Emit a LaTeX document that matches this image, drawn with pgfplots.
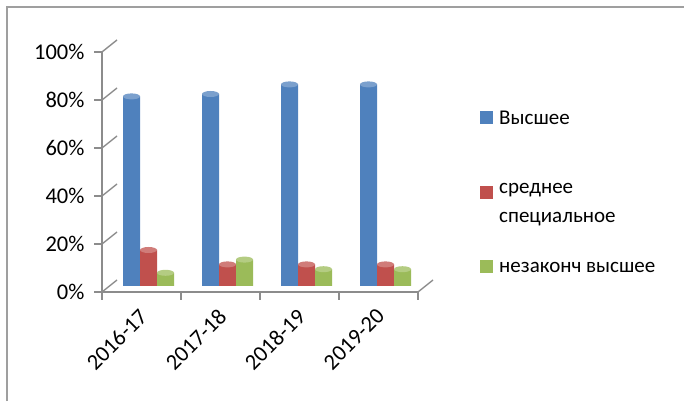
\documentclass[border=0pt]{standalone}
\usepackage{fontspec}
\setmainfont{Carlito}
\usepackage{pgfplots}
\pgfplotsset{compat=1.18}
\usetikzlibrary{shapes.geometric}
\definecolor{cBlue}{HTML}{4F81BD}
\definecolor{cRed}{HTML}{C0504D}
\definecolor{cGreen}{HTML}{9BBB59}
\definecolor{cGrid}{HTML}{8C8C8C}
\pgfplotstableread{
x high mid inc
0 79 15 5.5
1 80 9 11
2 84 9 7
3 84 9 7
}\datatable
\begin{document}
\begin{tikzpicture}[x=1pt,y=1pt]
\useasboundingbox (0,0) rectangle (684,401);
\draw[gray!75, line width=1.6pt] (7,0) -- (7,394) -- (684,394);
% back wall (grid)
\begin{axis}[at={(116pt,121pt)}, anchor=south west, scale only axis,
  width=316pt, height=240pt, xmin=-0.5, xmax=3.5, ymin=0, ymax=100,
  axis lines=none, ytick={0,20,...,100}, xtick=\empty, ymajorgrids,
  grid style={cGrid, line width=1.4pt}]
\addplot[draw=none] coordinates {(0,0)};
\end{axis}
% front axis
\begin{axis}[at={(102pt,109pt)}, anchor=south west, scale only axis,
  width=316pt, height=240pt, xmin=-0.5, xmax=3.5, ymin=0, ymax=100,
  clip=false,
  axis x line=bottom, axis y line=left, axis line style={cGrid, line width=1.4pt, -},
  ytick={0,20,...,100}, yticklabel={\pgfmathprintnumber{\tick}\%},
  /pgf/number format/assume math mode=true,
  tick style={cGrid, line width=1.4pt}, major tick length=8pt, tick align=outside,
  xtick={-0.5,0.5,...,3.5}, xticklabels={},
  extra x ticks={0,1,2,3}, extra x tick labels={2016-17,2017-18,2018-19,2019-20},
  extra x tick style={major tick length=0pt, tick label style={anchor=east, inner sep=0pt, rotate=45, xshift=-13pt, yshift=-16pt}},
  yticklabel style={xshift=-6pt},
  tick label style={font=\fontsize{22.5}{26}\selectfont, text=black}]
\addplot[draw=none] coordinates {(0,0)};
\pgfplotsinvokeforeach{0,20,...,100}{
  \draw[cGrid, line width=1.4pt] (axis cs:-0.5,#1) -- ++(15pt,12pt);
}
\draw[cGrid, line width=1.4pt] (axis cs:3.5,0) -- ++(15pt,12pt);
\end{axis}
% bars (middle depth)
\begin{axis}[at={(109pt,115pt)}, anchor=south west, scale only axis,
  width=316pt, height=240pt, xmin=-0.5, xmax=3.5, ymin=0, ymax=100,
  axis lines=none, xtick=\empty, ytick=\empty, clip=false,
  ybar=0pt, bar width=17pt,
  nodes near coords={},
  every node near coord/.append style={ellipse, minimum width=17pt, minimum height=6pt, inner sep=0pt, anchor=center, draw=none}]
\addplot[draw=none, fill=cBlue,
  every node near coord/.append style={fill=cBlue!75!white}] table[x=x,y=high]{\datatable};
\addplot[draw=none, fill=cRed,
  every node near coord/.append style={fill=cRed!75!white}] table[x=x,y=mid]{\datatable};
\addplot[draw=none, fill=cGreen,
  every node near coord/.append style={fill=cGreen!75!white}] table[x=x,y=inc]{\datatable};
\end{axis}
% legend
\begin{scope}[font=\fontsize{21}{29}\selectfont, text=black]
\fill[cBlue] (480,276.5) rectangle (493,289.5);
\node[anchor=west, inner sep=0pt] at (499,283) {Высшее};
\fill[cRed] (480,201.5) rectangle (493,214.5);
\node[anchor=north west, inner sep=0pt, align=left] at (499,218) {среднее\\специальное};
\fill[cGreen] (480,127.5) rectangle (493,140.5);
\node[anchor=west, inner sep=0pt] at (499,134) {незаконч высшее};
\end{scope}
\end{tikzpicture}
\end{document}
